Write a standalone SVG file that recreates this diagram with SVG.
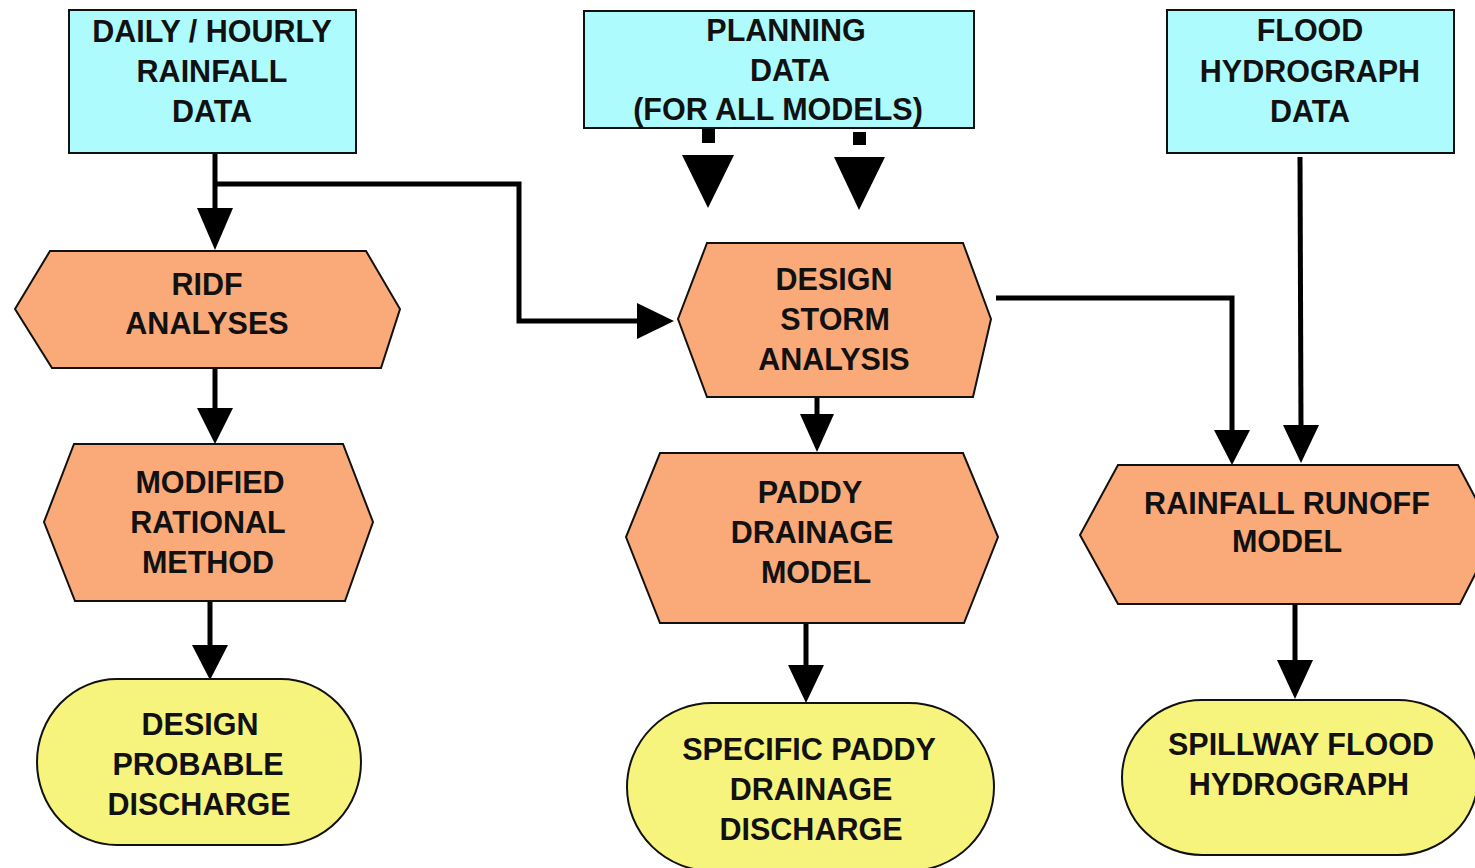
<svg xmlns="http://www.w3.org/2000/svg" width="1475" height="868" viewBox="0 0 1475 868">
<style>
.data{fill:#AEFBFD;stroke:#111;stroke-width:2}
.proc{fill:#F9AA78;stroke:#111;stroke-width:2}
.out{fill:#F7F47E;stroke:#111;stroke-width:2}
text{font-family:"Liberation Sans",Arial,sans-serif;font-weight:bold;font-size:30.5px;fill:#111;text-anchor:middle}
.ln{fill:none;stroke:#000;stroke-width:5}
.hd{fill:#000}
</style>
<rect width="1475" height="868" fill="#fff"/>
<g id="connectors">
<path class="ln" d="M215,153 V210"/>
<polygon class="hd" points="197,208 233,208 215,250"/>
<path class="ln" d="M215,184 H519 V321 H640"/>
<polygon class="hd" points="637,303 637,339 674,321"/>
<rect class="hd" x="702" y="129" width="13" height="14"/>
<polygon class="hd" points="682,155 734,155 708,208"/>
<rect class="hd" x="853" y="132" width="13" height="13"/>
<polygon class="hd" points="834,157 885,157 859,210"/>
<path class="ln" d="M215,368 V410"/>
<polygon class="hd" points="197,408 233,408 215,444"/>
<path class="ln" d="M210,601 V647"/>
<polygon class="hd" points="192,645 228,645 210,680"/>
<path class="ln" d="M817,397 V416"/>
<polygon class="hd" points="800,414 834,414 817,452"/>
<path class="ln" d="M996,298 H1232 V432"/>
<polygon class="hd" points="1214,430 1250,430 1232,465"/>
<path class="ln" d="M1300,157 L1301,427"/>
<polygon class="hd" points="1283,425 1319,425 1301,463"/>
<path class="ln" d="M806,622 V667"/>
<polygon class="hd" points="788,665 824,665 806,703"/>
<path class="ln" d="M1295,604 V662"/>
<polygon class="hd" points="1277,660 1313,660 1295,699"/>
</g>
<g id="rainfall-data">
<rect class="data" x="69" y="10" width="287" height="143"/>
<text x="212" y="42">DAILY / HOURLY</text>
<text x="212" y="82">RAINFALL</text>
<text x="212" y="122">DATA</text>
</g>
<g id="planning-data">
<rect class="data" x="584" y="11" width="390" height="117"/>
<text x="786" y="41">PLANNING</text>
<text x="790" y="81">DATA</text>
<text x="778" y="120">(FOR ALL MODELS)</text>
</g>
<g id="flood-data">
<rect class="data" x="1167" y="10" width="287" height="143"/>
<text x="1310" y="41">FLOOD</text>
<text x="1310" y="82">HYDROGRAPH</text>
<text x="1310" y="122">DATA</text>
</g>
<g id="ridf">
<polygon class="proc" points="50,251 366,251 400,309 381,368 52,368 15,309"/>
<text x="207" y="295">RIDF</text>
<text x="207" y="334">ANALYSES</text>
</g>
<g id="modified-rational">
<polygon class="proc" points="74,444 343,444 373,522 345,601 75,601 44,522"/>
<text x="210" y="493">MODIFIED</text>
<text x="208" y="533">RATIONAL</text>
<text x="208" y="573">METHOD</text>
</g>
<g id="design-storm">
<polygon class="proc" points="707,243 963,243 991,319 973,397 707,397 678,319"/>
<text x="834" y="290">DESIGN</text>
<text x="835" y="330">STORM</text>
<text x="834" y="370">ANALYSIS</text>
</g>
<g id="paddy-drainage">
<polygon class="proc" points="660,453 963,453 998,537 964,623 660,623 626,537"/>
<text x="810" y="503">PADDY</text>
<text x="812" y="543">DRAINAGE</text>
<text x="816" y="583">MODEL</text>
</g>
<g id="rainfall-runoff">
<polygon class="proc" points="1118,465 1458,465 1495,535 1460,604 1118,604 1080,535"/>
<text x="1287" y="514">RAINFALL RUNOFF</text>
<text x="1287" y="552">MODEL</text>
</g>
<g id="design-probable">
<rect class="out" x="37" y="679" width="324" height="166" rx="80" ry="83"/>
<text x="200" y="735">DESIGN</text>
<text x="198" y="775">PROBABLE</text>
<text x="199" y="815">DISCHARGE</text>
</g>
<g id="specific-paddy">
<rect class="out" x="627" y="703" width="367" height="168" rx="85" ry="84"/>
<text x="809" y="760">SPECIFIC PADDY</text>
<text x="811" y="800">DRAINAGE</text>
<text x="811" y="840">DISCHARGE</text>
</g>
<g id="spillway">
<rect class="out" x="1122" y="700" width="356" height="155" rx="80" ry="78"/>
<text x="1301" y="755">SPILLWAY FLOOD</text>
<text x="1299" y="795">HYDROGRAPH</text>
</g>
</svg>
